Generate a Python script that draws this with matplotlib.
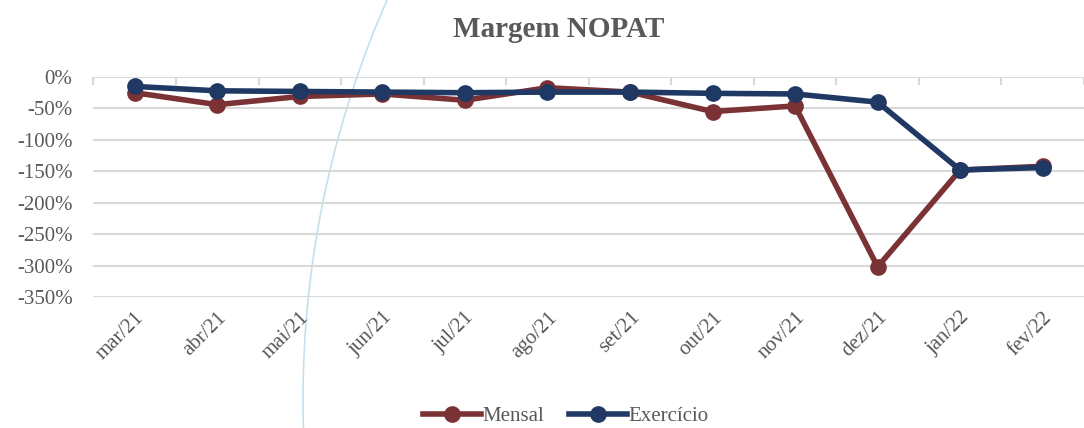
import matplotlib.pyplot as plt
from matplotlib.patches import Ellipse
from matplotlib.ticker import FuncFormatter

# Monthly NOPAT margin (%) and year-to-date figure
meses = ['mar/21', 'abr/21', 'mai/21', 'jun/21', 'jul/21', 'ago/21',
         'set/21', 'out/21', 'nov/21', 'dez/21', 'jan/22', 'fev/22']
mensal = [-25, -44, -31, -27, -37, -17, -24, -55, -46, -302, -148, -142]
exercicio = [-15, -22, -23, -24, -25, -24, -24, -26, -27, -40, -148, -144]

cor_mensal = '#7B3235'
cor_exercicio = '#1F3864'
cinza = '#595959'
grade = '#D9D9D9'

plt.rcParams['font.family'] = ['Liberation Serif', 'DejaVu Serif']

fig = plt.figure(figsize=(10.84, 4.28), dpi=100)
ax = fig.add_axes([0.0862, 0.3061, 0.9138, 0.5140])
ax.set_facecolor('none')

# decorative arc behind the chart
arco = Ellipse((1297 / 1084, 1 - 400 / 428), 2 * 994 / 1084, 2 * 994 / 428,
               transform=fig.transFigure, fill=False, edgecolor='#C5E0EC',
               lw=1.2, zorder=-1)
fig.patches.append(arco)

x = list(range(len(meses)))
ax.plot(x, mensal, color=cor_mensal, lw=4, marker='o', ms=11,
        label='Mensal', clip_on=False, zorder=3)
ax.plot(x, exercicio, color=cor_exercicio, lw=4, marker='o', ms=11,
        label='Exercício', clip_on=False, zorder=4)

ax.set_ylim(-350, 0)
ax.set_yticks(range(-350, 1, 50))
ax.yaxis.set_major_formatter(FuncFormatter(lambda v, p: f'{int(v)}%'))
ax.grid(axis='y', color=grade, lw=1.5)
ax.set_axisbelow(True)

ax.set_xlim(-0.5, 11.39)
ax.set_xticks(x)
ax.set_xticklabels(meses, rotation=45, ha='right', rotation_mode='anchor')
ax.set_xticks([i - 0.5 for i in range(len(meses) + 1)], minor=True)
ax.tick_params(axis='x', which='major', length=0, pad=8, labelsize=15,
               labelcolor=cinza)
ax.tick_params(axis='x', which='minor', bottom=False, top=True,
               direction='in', length=6, width=1.5, color=grade)
ax.tick_params(axis='y', length=0, pad=15, labelsize=15, labelcolor=cinza)

for s in ax.spines.values():
    s.set_visible(False)

fig.text(0.515, 0.93, 'Margem NOPAT', ha='center', va='center',
         fontsize=21, fontweight='bold', color=cinza)

fig.legend(loc='center', bbox_to_anchor=(0.522, 0.027), ncol=2, frameon=False,
           fontsize=15, labelcolor=cinza, handlelength=2.8, handletextpad=0.05,
           columnspacing=1.2)

fig.savefig('out.png', dpi=100)
